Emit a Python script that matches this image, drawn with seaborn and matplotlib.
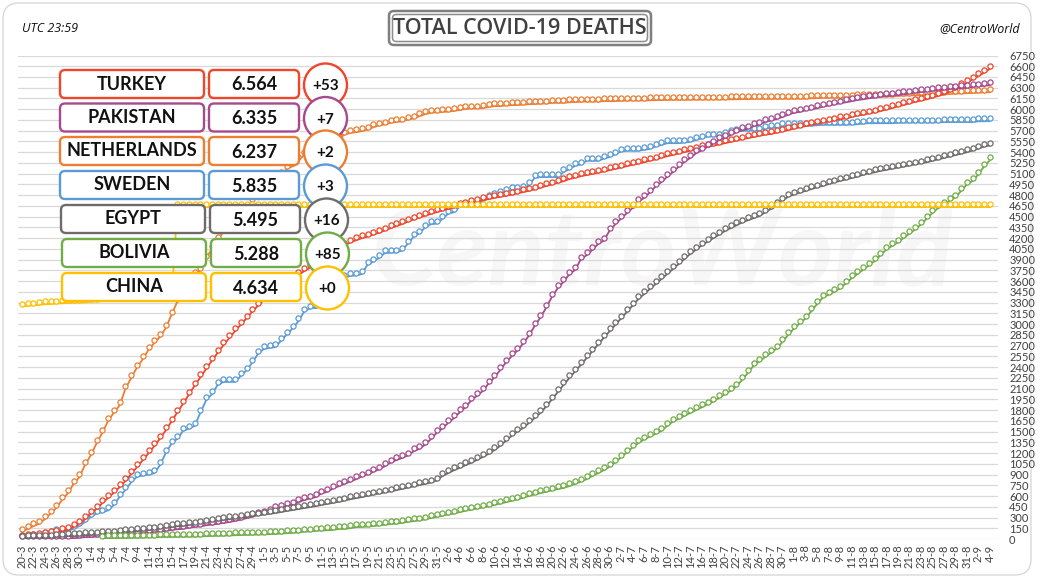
import numpy as np
import pandas as pd
import matplotlib
matplotlib.use("Agg")
import matplotlib.pyplot as plt
import seaborn as sns
from matplotlib.patches import FancyBboxPatch, Circle
from matplotlib.transforms import ScaledTranslation

# ---------------- data ----------------
dates = pd.date_range("2020-03-20", "2020-09-04", freq="D")
date_labels = [f"{d.day}-{d.month}" for d in dates]

turkey = [21, 30, 37, 44, 59, 75, 92, 108, 131, 168, 214, 277,
          356, 425, 501, 574, 649, 725, 812, 908, 1006, 1101, 1198, 1296, 1403, 1518, 1643,
          1769, 1890, 2017, 2140, 2259, 2376, 2491, 2600, 2706, 2805, 2900, 2992, 3081, 3174, 3258,
          3336, 3397, 3461, 3520, 3584, 3641, 3689, 3739, 3786, 3841, 3894, 3952, 4007, 4055, 4096,
          4140, 4171, 4199, 4222, 4249, 4276, 4308, 4340, 4369, 4397, 4431, 4461, 4489, 4515, 4540, 4563,
          4585, 4609, 4630, 4648, 4669, 4692, 4711, 4729, 4746, 4763, 4778, 4792, 4807, 4825, 4842,
          4861, 4882, 4905, 4927, 4950, 4974, 4995, 5025, 5046, 5065, 5082, 5097, 5115, 5131, 5150,
          5167, 5186, 5206, 5225, 5241, 5260, 5282, 5300, 5323, 5344, 5363, 5382, 5402, 5419, 5440,
          5459, 5475, 5491, 5508, 5526, 5545, 5563, 5580, 5599, 5613, 5630, 5645, 5655, 5674, 5691, 5710,
          5728, 5747, 5765, 5784, 5798, 5813, 5829, 5844, 5860, 5873, 5891, 5912, 5922, 5941, 5955,
          5974, 5996, 6016, 6039, 6058, 6082, 6102, 6121, 6139, 6163, 6185, 6209, 6245, 6277, 6326, 6370,
          6417, 6462, 6511, 6564]

pakistan = [3, 3, 3, 5, 6, 7, 7, 9, 10, 11, 18, 26,
            28, 33, 40, 45, 50, 54, 61, 66, 71, 86, 93, 96, 107, 111, 128,
            136, 143, 159, 169, 176, 192, 201, 212, 224, 237, 253, 269, 292, 312, 343,
            357, 385, 417, 440, 462, 483, 514, 544, 564, 585, 636, 659, 706, 737, 770,
            803, 834, 873, 903, 939, 971, 1017, 1067, 1101, 1133, 1167, 1225, 1260, 1317, 1395, 1483,
            1543, 1621, 1688, 1770, 1838, 1935, 2002, 2067, 2172, 2255, 2356, 2463, 2551, 2632, 2729,
            2839, 2975, 3093, 3229, 3382, 3501, 3590, 3695, 3755, 3903, 3962, 4035, 4118, 4167, 4304,
            4395, 4473, 4551, 4621, 4712, 4762, 4839, 4922, 4983, 5058, 5123, 5197, 5266, 5320, 5386,
            5426, 5475, 5522, 5568, 5599, 5639, 5677, 5709, 5728, 5763, 5787, 5822, 5842, 5865, 5892, 5924,
            5951, 5963, 5984, 5999, 6014, 6035, 6052, 6068, 6082, 6097, 6112, 6129, 6139, 6153, 6162,
            6175, 6182, 6190, 6197, 6209, 6219, 6231, 6240, 6247, 6257, 6267, 6273, 6283, 6288, 6295, 6298,
            6312, 6318, 6328, 6335]

netherlands = [106, 136, 179, 213, 276, 356, 434, 546, 639, 771, 864, 1039,
               1173, 1339, 1487, 1651, 1766, 1867, 2101, 2248, 2396, 2511, 2643, 2737, 2823, 2945, 3134,
               3315, 3459, 3601, 3684, 3751, 3916, 4054, 4177, 4289, 4409, 4475, 4518, 4566, 4711, 4795,
               4893, 4987, 5056, 5082, 5168, 5204, 5288, 5359, 5422, 5440, 5456, 5510, 5562, 5590, 5643,
               5670, 5680, 5694, 5715, 5748, 5775, 5788, 5811, 5822, 5830, 5856, 5871, 5903, 5931, 5951, 5956,
               5962, 5967, 5977, 5990, 6005, 6011, 6013, 6016, 6031, 6042, 6044, 6053, 6057, 6059, 6065,
               6070, 6074, 6078, 6081, 6089, 6090, 6090, 6097, 6100, 6105, 6107, 6107, 6107, 6113, 6113,
               6113, 6118, 6120, 6122, 6122, 6122, 6125, 6128, 6128, 6131, 6132, 6132, 6132, 6133, 6135,
               6135, 6136, 6136, 6136, 6138, 6139, 6139, 6142, 6142, 6145, 6145, 6145, 6146, 6147, 6147, 6147,
               6147, 6147, 6147, 6153, 6155, 6159, 6160, 6162, 6162, 6162, 6166, 6167, 6172, 6177, 6178,
               6178, 6178, 6178, 6187, 6190, 6193, 6195, 6197, 6200, 6201, 6204, 6208, 6214, 6217, 6219, 6224,
               6228, 6232, 6235, 6237]

sweden = [20, 21, 25, 36, 62, 77, 105, 105, 110, 146, 180, 239,
          308, 358, 373, 401, 477, 591, 687, 793, 870, 887, 899, 919, 1033, 1203, 1333,
          1400, 1511, 1540, 1580, 1765, 1937, 2021, 2152, 2192, 2194, 2194, 2274, 2355, 2462, 2586,
          2653, 2669, 2679, 2769, 2854, 2941, 3040, 3175, 3220, 3225, 3256, 3313, 3460, 3529, 3646,
          3674, 3679, 3698, 3831, 3871, 3925, 3992, 3998, 4000, 4029, 4125, 4220, 4266, 4350, 4395, 4403,
          4468, 4542, 4562, 4639, 4656, 4659, 4659, 4717, 4766, 4795, 4814, 4854, 4874, 4874, 4891,
          4939, 5041, 5053, 5053, 5053, 5053, 5122, 5161, 5209, 5230, 5280, 5280, 5280, 5310, 5333,
          5370, 5411, 5420, 5420, 5420, 5433, 5447, 5482, 5500, 5526, 5526, 5526, 5536, 5545, 5572,
          5593, 5619, 5619, 5619, 5646, 5667, 5687, 5697, 5702, 5702, 5702, 5730, 5739, 5743, 5763, 5766,
          5766, 5766, 5766, 5770, 5776, 5783, 5783, 5783, 5783, 5783, 5787, 5790, 5800, 5805, 5805,
          5805, 5805, 5805, 5810, 5813, 5814, 5814, 5814, 5814, 5814, 5817, 5820, 5821, 5821, 5821, 5821,
          5821, 5832, 5832, 5835]

egypt = [10, 14, 19, 20, 21, 24, 30, 36, 40, 41, 46, 52,
         56, 60, 66, 71, 78, 85, 94, 103, 111, 118, 125, 135, 146, 159, 164,
         178, 183, 196, 205, 218, 230, 245, 255, 266, 277, 288, 298, 309, 320, 330,
         340, 352, 363, 378, 392, 405, 418, 430, 445, 460, 475, 490, 505, 520, 538,
         555, 570, 586, 603, 620, 635, 650, 665, 683, 700, 718, 735, 752, 770, 790, 815,
         880, 920, 960, 995, 1030, 1065, 1105, 1145, 1190, 1240, 1300, 1370, 1440, 1500, 1550,
         1620, 1690, 1760, 1850, 1950, 2050, 2150, 2245, 2340, 2430, 2525, 2620, 2715, 2810, 2900,
         2990, 3080, 3170, 3260, 3350, 3420, 3490, 3560, 3630, 3700, 3770, 3840, 3910, 3980, 4040,
         4100, 4150, 4200, 4250, 4300, 4340, 4380, 4420, 4450, 4480, 4510, 4560, 4610, 4660, 4720, 4780,
         4810, 4835, 4860, 4885, 4910, 4930, 4955, 4980, 5000, 5020, 5040, 5060, 5085, 5105, 5120,
         5140, 5155, 5170, 5185, 5200, 5215, 5230, 5245, 5260, 5280, 5300, 5320, 5340, 5360, 5380, 5400,
         5425, 5450, 5479, 5495]

bolivia = [np.nan, np.nan, np.nan, np.nan, np.nan, np.nan, np.nan, np.nan, np.nan, np.nan, np.nan, np.nan,
           np.nan, np.nan, 10, 11, 12, 14, 14, 15, 17, 19, 20, 24, 27, 28, 29,
           29, 31, 32, 33, 37, 40, 43, 44, 46, 50, 53, 55, 56, 59, 62,
           65, 68, 71, 76, 82, 86, 91, 102, 106, 114, 120, 122, 127, 140, 142,
           151, 165, 169, 174, 180, 189, 199, 209, 215, 225, 240, 250, 260, 274, 293, 310,
           325, 343, 355, 376, 395, 410, 425, 440, 455, 476, 494, 514, 535, 553, 577,
           600, 622, 640, 660, 679, 697, 713, 739, 770, 800, 835, 880, 920, 960, 1010,
           1070, 1140, 1210, 1280, 1340, 1390, 1430, 1470, 1510, 1580, 1640, 1680, 1720, 1760, 1800,
           1840, 1880, 1920, 1970, 2020, 2070, 2130, 2220, 2320, 2420, 2480, 2540, 2600, 2660, 2750, 2850,
           2940, 3010, 3080, 3180, 3280, 3370, 3410, 3450, 3500, 3570, 3640, 3700, 3760, 3820, 3880,
           3960, 4040, 4090, 4140, 4200, 4260, 4320, 4390, 4470, 4550, 4620, 4670, 4720, 4770, 4860, 4950,
           5000, 5090, 5203, 5288]

china = [3248, 3255, 3261, 3270, 3277, 3281, 3287, 3292, 3295, 3300, 3304, 3305,
         3312, 3318, 3322, 3326, 3329, 3331, 3333, 3335, 3336, 3339, 3339, 3341, 3341, 3342, 3342,
         4632, 4632, 4632, 4632, 4632, 4632, 4632, 4632, 4632, 4632, 4632, 4632, 4632, 4632, 4632,
         4632, 4632, 4632, 4632, 4632, 4632, 4632, 4632, 4632, 4632, 4632, 4632, 4632, 4632, 4632,
         4632, 4633, 4634, 4634, 4634, 4634, 4634, 4634, 4634, 4634, 4634, 4634, 4634, 4634, 4634, 4634,
         4634, 4634, 4634, 4634, 4634, 4634, 4634, 4634, 4634, 4634, 4634, 4634, 4634, 4634, 4634,
         4634, 4634, 4634, 4634, 4634, 4634, 4634, 4634, 4634, 4634, 4634, 4634, 4634, 4634, 4634,
         4634, 4634, 4634, 4634, 4634, 4634, 4634, 4634, 4634, 4634, 4634, 4634, 4634, 4634, 4634,
         4634, 4634, 4634, 4634, 4634, 4634, 4634, 4634, 4634, 4634, 4634, 4634, 4634, 4634, 4634, 4634,
         4634, 4634, 4634, 4634, 4634, 4634, 4634, 4634, 4634, 4634, 4634, 4634, 4634, 4634, 4634,
         4634, 4634, 4634, 4634, 4634, 4634, 4634, 4634, 4634, 4634, 4634, 4634, 4634, 4634, 4634, 4634,
         4634, 4634, 4634, 4634]

countries = ["TURKEY", "PAKISTAN", "NETHERLANDS", "SWEDEN", "EGYPT", "BOLIVIA", "CHINA"]
totals = ["6.564", "6.335", "6.237", "5.835", "5.495", "5.288", "4.634"]
new_deaths = ["+53", "+7", "+2", "+3", "+16", "+85", "+0"]
colors = ["#F0452B", "#A6498D", "#ED7D31", "#5B9BD5", "#6F6B6B", "#70AD47", "#FFC000"]

series = {"TURKEY": turkey, "PAKISTAN": pakistan, "NETHERLANDS": netherlands,
          "SWEDEN": sweden, "EGYPT": egypt, "BOLIVIA": bolivia, "CHINA": china}
color_of = dict(zip(countries, colors))

frames = []
for name, vals in series.items():
    frames.append(pd.DataFrame({"day": np.arange(len(dates)), "deaths": vals, "country": name}))
long = pd.concat(frames, ignore_index=True)

# ---------------- figure ----------------
sns.set_theme(style="white")
plt.rcParams["font.family"] = ["Lato", "DejaVu Sans"]

W, H = 1040, 582
fig = plt.figure(figsize=(W / 100, H / 100), dpi=100)

bg = fig.add_axes([0, 0, 1, 1], zorder=0)
bg.set_xlim(0, W); bg.set_ylim(H, 0); bg.axis("off")

left, right, top_px, bot_px = 18, 998, 55.5, 539
ax = fig.add_axes([left / W, (H - bot_px) / H, (right - left) / W, (bot_px - top_px) / H], zorder=1)
ax.set_facecolor("none")

fg = fig.add_axes([0, 0, 1, 1], zorder=2)
fg.set_xlim(0, W); fg.set_ylim(H, 0); fg.axis("off")

# outer frame
bg.add_patch(FancyBboxPatch((3, 3), 1028, 572, boxstyle="round,pad=0,rounding_size=16",
                            fc="white", ec="#d9d9d9", lw=1.0))
# faint watermark (kept clear of the legend table and the tick labels)
bg.text(372, 255, "CentroWorld", fontsize=76, style="italic", fontweight="bold",
        color="#f7f7f7", ha="left", va="center")

# lines with white-filled circle markers sitting just above the line
draw_order = ["SWEDEN", "NETHERLANDS", "TURKEY", "PAKISTAN", "EGYPT", "BOLIVIA", "CHINA"]
marker_shift = ScaledTranslation(0, 2.0 / 72, fig.dpi_scale_trans)
for name in draw_order:
    sub = long[long["country"] == name].dropna()
    col = color_of[name]
    sns.lineplot(data=sub, x="day", y="deaths", estimator=None, color=col, lw=1.3,
                 ax=ax, legend=False)
    sns.lineplot(data=sub, x="day", y="deaths", estimator=None, color=col, linestyle="",
                 marker="o", markersize=3.7, markerfacecolor="white", markeredgecolor=col,
                 markeredgewidth=0.9, ax=ax, legend=False)
    ax.lines[-1].set_transform(ax.transData + marker_shift)

# axes styling
ax.set_xlim(-0.65, 169.4)
ax.set_ylim(0, 6750)
ax.set_yticks(np.arange(0, 6751, 150))
ax.set_yticklabels([str(v) for v in range(0, 6751, 150)])
ax.yaxis.tick_right()
ax.set_xticks(np.arange(0, len(dates), 2))
ax.set_xticklabels(date_labels[::2], rotation=90)
ax.tick_params(axis="y", length=0, pad=8, labelsize=8, labelcolor="#404040")
ax.tick_params(axis="x", length=0, pad=4, labelsize=8, labelcolor="#404040")
ax.grid(axis="y", color="#d9d9d9", lw=0.9)
ax.grid(axis="x", visible=False)
for s in ax.spines.values():
    s.set_visible(False)
ax.set_xlabel("")
ax.set_ylabel("")

# header
fg.text(22, 29, "UTC 23:59", fontsize=9, style="italic", color="#111111",
        ha="left", va="center", family=["Open Sans", "DejaVu Sans"])
fg.text(1020, 29, "@CentroWorld", fontsize=9, style="italic", color="#111111",
        ha="right", va="center", family=["Open Sans", "DejaVu Sans"])
fg.add_patch(FancyBboxPatch((389, 11), 262, 34, boxstyle="round,pad=0,rounding_size=5",
                            fc="white", ec="#7f7f7f", lw=1.8))
fg.add_patch(FancyBboxPatch((392.5, 14.5), 255, 27, boxstyle="round,pad=0,rounding_size=4",
                            fc="white", ec="#8c8c8c", lw=1.1))
fg.text(520, 28.5, "TOTAL COVID-19 DEATHS", fontsize=15.5, fontweight="semibold",
        color="#404040", ha="center", va="center", family=["Open Sans", "DejaVu Sans"])

# legend table
row_y = [84, 117.5, 151, 185, 219, 253, 287]
x_shift = [0, 0, 0, 0, 1, 2, 2]
for i, name in enumerate(countries):
    cy = row_y[i]
    dx = x_shift[i]
    col = colors[i]
    fg.add_patch(FancyBboxPatch((60 + dx, cy - 14), 144, 28, boxstyle="round,pad=0,rounding_size=5",
                                fc="white", ec=col, lw=1.7))
    fg.add_patch(FancyBboxPatch((209 + dx, cy - 14), 90, 28, boxstyle="round,pad=0,rounding_size=5",
                                fc="white", ec=col, lw=1.7))
    fg.add_patch(Circle((325.5 + dx, cy + 1), 21.5, fc="white", ec=col, lw=1.7))
    fg.text(132 + dx, cy, name, fontsize=13, fontweight="bold", color="#111111",
            ha="center", va="center")
    fg.text(254 + dx, cy + 1, totals[i], fontsize=13, fontweight="bold", color="#111111",
            ha="center", va="center")
    fg.text(325.5 + dx, cy + 2, new_deaths[i], fontsize=11, fontweight="bold", color="#111111",
            ha="center", va="center")

fig.savefig("out.png", dpi=100)
